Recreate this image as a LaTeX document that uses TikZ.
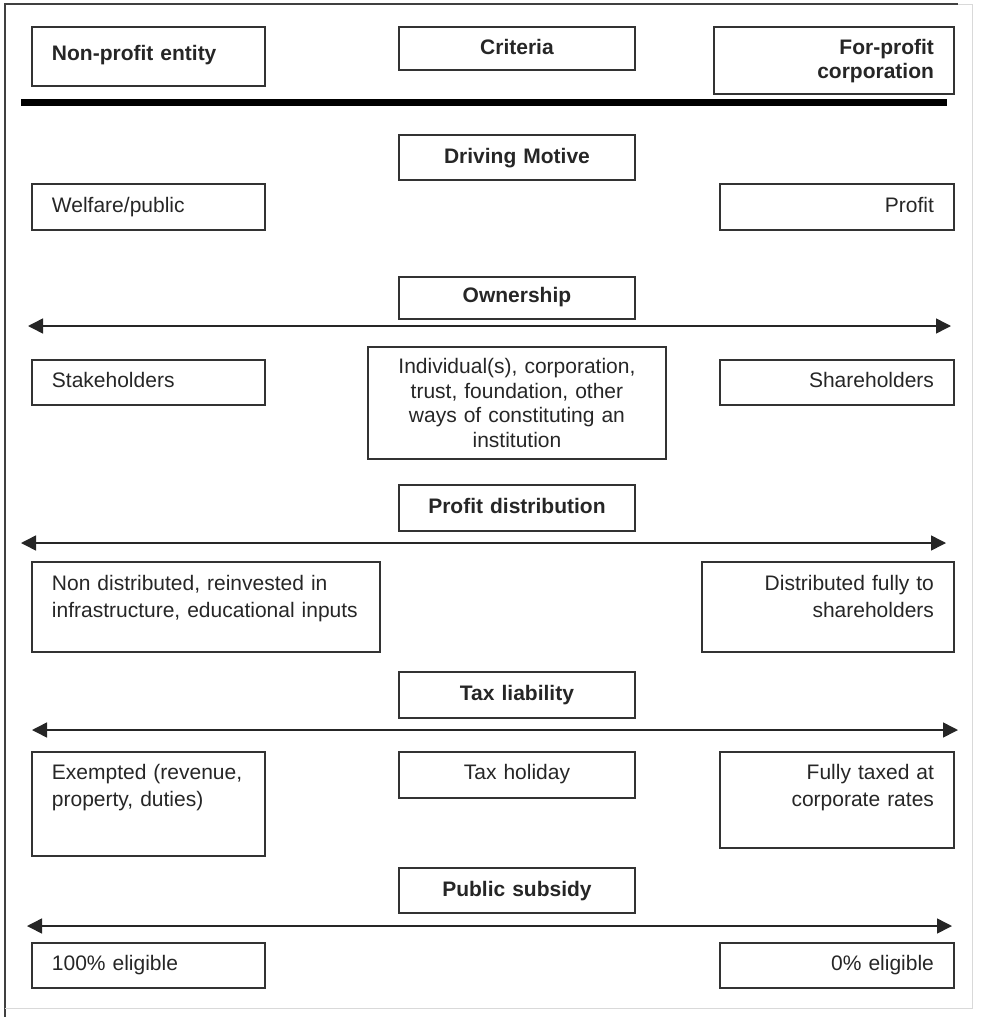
\documentclass[tikz,border=0pt]{standalone}
\usepackage{fontspec}
\setmainfont{Liberation Sans}
\usetikzlibrary{arrows.meta}

\begin{document}
\begin{tikzpicture}[x=1pt,y=-1pt]
    \tikzset{cell/.style = {draw=black!80, line width=1.9pt, anchor=north west, inner xsep=20pt, inner ysep=0pt, text=black!85, font=\fontsize{21}{24.5}\selectfont}}
    \tikzset{head/.style = {cell, font=\fontsize{21}{24}\selectfont\bfseries}}
    \tikzset{edge/.style = {<->, > = {Triangle[length=15pt,width=15pt]}, line width=1.5pt, draw=black!85}}
    \useasboundingbox (0,0) rectangle (980,1017);
    % frame
    \draw[black!75, line width=1.8pt] (5,1017) -- (5,4) -- (958,4);
    \draw[black!15, line width=1pt] (958,4) -- (972,4) -- (972,1008) -- (5,1008);

    % header
    \node[head, align=left, text width=193pt, text height=34pt, text depth=25pt] (nonprofit) at (31,26) {Non-profit entity};
    \node[head, align=center, text width=196pt, text height=28pt, text depth=15pt] (criteria) at (398,26) {Criteria};
    \node[head, align=right, text width=200pt, text height=28pt, text depth=39pt] (forprofit) at (713,26) {For-profit\\corporation};
    \coordinate (rule-l) at (21,102);
    \coordinate (rule-r) at (947,102);
    \draw[line width=7pt] (rule-l) -- (rule-r);

    % driving motive
    \node[head, align=center, text width=196pt, text height=29pt, text depth=16pt] (motive) at (398,134) {Driving Motive};
    \node[cell, align=left, text width=193pt, text height=29pt, text depth=17pt] (welfare) at (31,183) {Welfare/public};
    \node[cell, align=right, text width=194pt, text height=29pt, text depth=17pt] (profit) at (719,183) {Profit};

    % ownership
    \node[head, align=center, text width=196pt, text height=26pt, text depth=16pt] (ownership) at (398,276) {Ownership};
    \coordinate (own-l) at (28,326);
    \coordinate (own-r) at (951,326);
    \draw[edge] (own-l) -- (own-r);
    \node[cell, align=left, text width=193pt, text height=28pt, text depth=17pt] (stake) at (31,359) {Stakeholders};
    \node[cell, align=center, text width=258pt, text height=27pt, text depth=85pt] (indiv) at (367,346) {Individual(s), corporation,\\trust, foundation, other\\ways of constituting an\\institution};
    \node[cell, align=right, text width=194pt, text height=28pt, text depth=17pt] (share) at (719,359) {Shareholders};

    % profit distribution
    \node[head, align=center, text width=196pt, text height=29pt, text depth=17pt] (distrib) at (398,484) {Profit distribution};
    \coordinate (dist-l) at (21,543);
    \coordinate (dist-r) at (946,543);
    \draw[edge] (dist-l) -- (dist-r);
    \node[cell, align=left, text width=308pt, text height=29pt, text depth=61pt, font=\fontsize{21}{27}\selectfont] (nondist) at (31,561) {Non distributed, reinvested in\\infrastructure, educational inputs};
    \node[cell, align=right, text width=212pt, text height=29pt, text depth=61pt, font=\fontsize{21}{27}\selectfont] (distfull) at (701,561) {Distributed fully to\\shareholders};

    % tax liability
    \node[head, align=center, text width=196pt, text height=29pt, text depth=17pt] (taxliab) at (398,671) {Tax liability};
    \coordinate (tax-l) at (32,730);
    \coordinate (tax-r) at (958,730);
    \draw[edge] (tax-l) -- (tax-r);
    \node[cell, align=left, text width=193pt, text height=28pt, text depth=76pt, font=\fontsize{21}{27}\selectfont] (exempt) at (31,751) {Exempted (revenue,\\property, duties)};
    \node[cell, align=center, text width=196pt, text height=28pt, text depth=18pt] (holiday) at (398,751) {Tax holiday};
    \node[cell, align=right, text width=194pt, text height=28pt, text depth=68pt, font=\fontsize{21}{27}\selectfont] (fullytax) at (719,751) {Fully taxed at\\corporate rates};

    % public subsidy
    \node[head, align=center, text width=196pt, text height=29pt, text depth=16pt] (subsidy) at (398,867) {Public subsidy};
    \coordinate (sub-l) at (27,926);
    \coordinate (sub-r) at (952,926);
    \draw[edge] (sub-l) -- (sub-r);
    \node[cell, align=left, text width=193pt, text height=28pt, text depth=17pt] (eligfull) at (31,942) {100\% eligible};
    \node[cell, align=right, text width=194pt, text height=28pt, text depth=17pt] (elignone) at (719,942) {0\% eligible};
\end{tikzpicture}
\end{document}
